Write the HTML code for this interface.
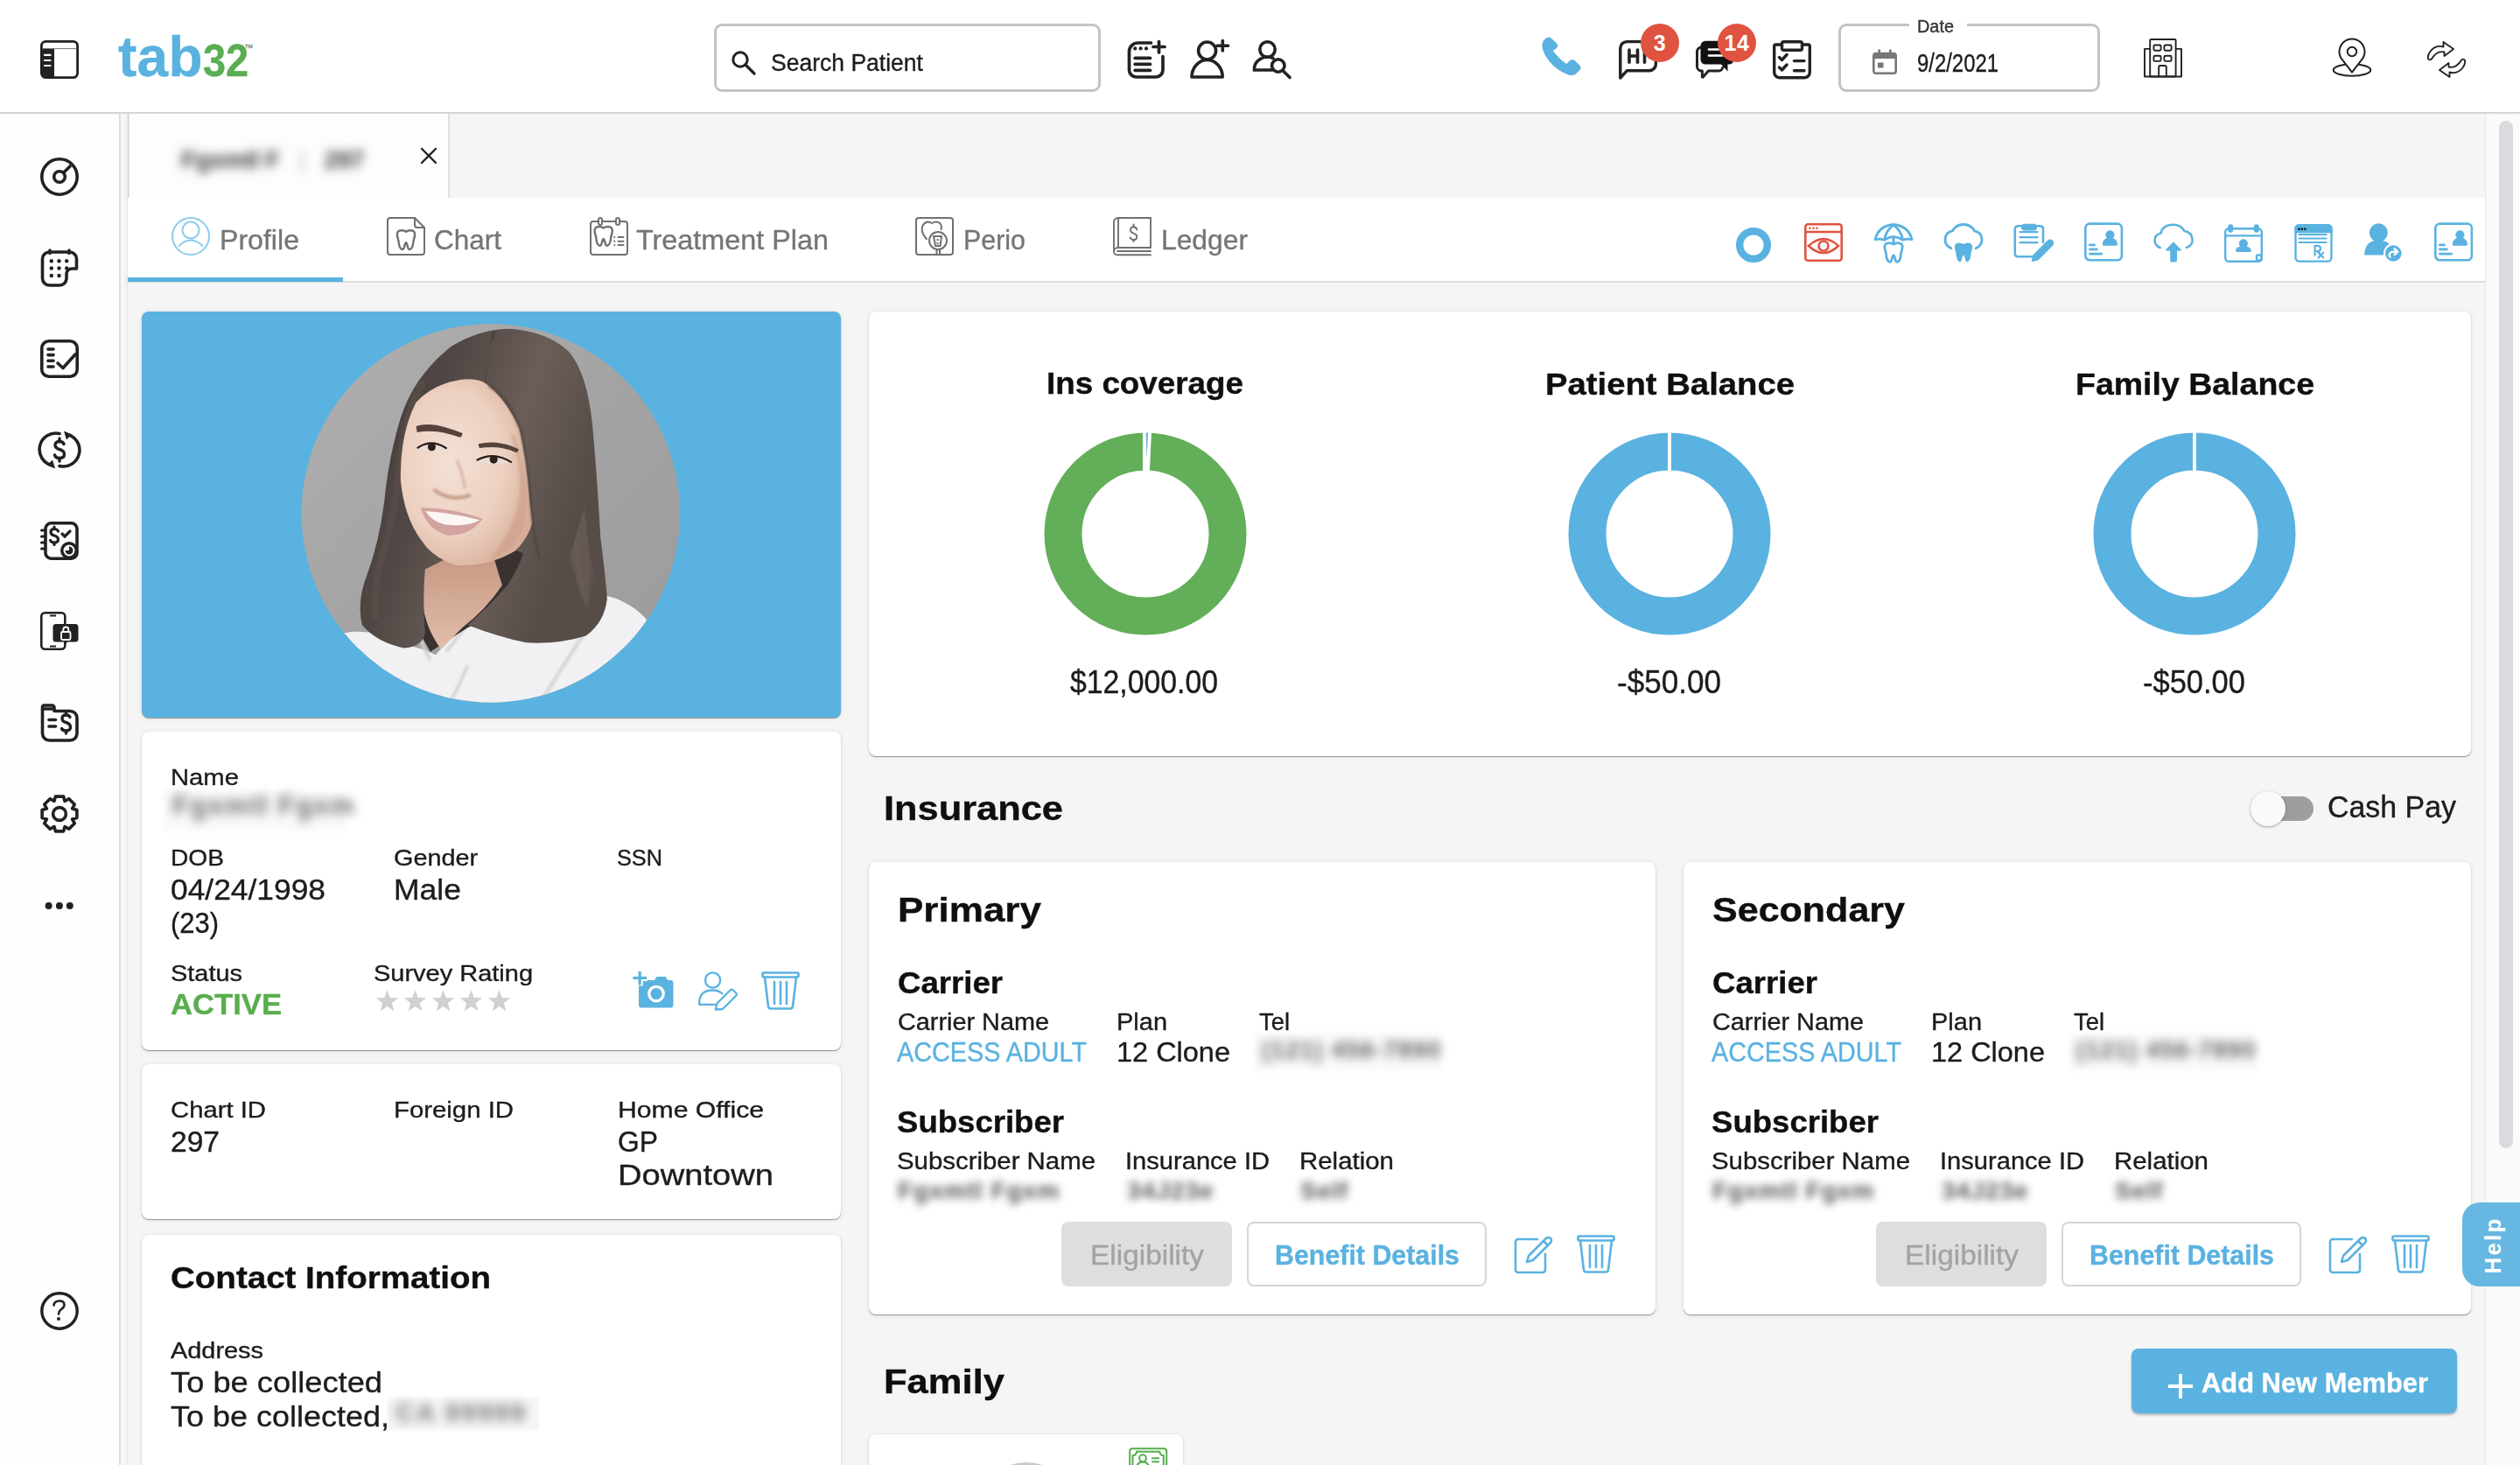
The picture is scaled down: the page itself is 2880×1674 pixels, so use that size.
<!DOCTYPE html>
<html><head><meta charset="utf-8"><title>tab32 Profile</title>
<style>
*{margin:0;padding:0;box-sizing:border-box}
html,body{width:2880px;height:1674px;overflow:hidden;background:#f5f5f5;font-family:"Liberation Sans",sans-serif;position:relative}
.tx{position:absolute;white-space:nowrap;line-height:1;transform-origin:0 50%;-webkit-text-stroke:0.35px currentColor}
.a{position:absolute}
.card{position:absolute;background:#fff;border-radius:8px;box-shadow:0 1px 1px rgba(0,0,0,.36),0 1px 6px rgba(0,0,0,.08),0 0 2px rgba(0,0,0,.06)}
svg{position:absolute;overflow:visible}
.blur{position:absolute;white-space:nowrap;line-height:1;filter:blur(5px)}
</style></head><body>
<div class="a" style="left:0px;top:0px;width:2880px;height:128px;background:#fff"></div>
<div class="a" style="left:0px;top:128px;width:2880px;height:2px;background:#d4d4d4"></div>
<div class="a" style="left:0px;top:130px;width:136px;height:1544px;background:#fefefe"></div>
<div class="a" style="left:136px;top:130px;width:2px;height:1544px;background:#dcdcdc"></div>
<div class="a" style="left:138px;top:130px;width:7px;height:1544px;background:linear-gradient(90deg,#f9f9f9,#f3f3f3)"></div>
<div class="a" style="left:145px;top:130px;width:1px;height:1544px;background:#e6e6e6"></div>
<div class="a" style="left:146px;top:130px;width:2px;height:96px;background:#dedede"></div>
<div class="a" style="left:148px;top:130px;width:2692px;height:96px;background:#f5f5f5"></div>
<div class="a" style="left:148px;top:130px;width:366px;height:96px;background:#fdfdfd;border-right:2px solid #e0e0e0"></div>
<div class="a" style="left:146px;top:226px;width:2694px;height:96px;background:#fff"></div>
<div class="a" style="left:146px;top:321px;width:2694px;height:2px;background:#dcdcdc"></div>
<div class="a" style="left:146px;top:317px;width:246px;height:5px;background:#5ab2e0"></div>
<div class="a" style="left:2840px;top:130px;width:1px;height:1544px;background:#e6e6e6"></div>
<div class="a" style="left:2841px;top:130px;width:39px;height:1544px;background:#fafafa"></div>
<div class="a" style="left:2856px;top:138px;width:16px;height:1174px;background:#dadbde;border-radius:8px"></div>
<div class="a" style="left:816px;top:27px;width:442px;height:78px;border:3px solid #c4c4c4;border-radius:9px;background:#fff"></div>
<div class="a" style="left:2101px;top:27px;width:299px;height:78px;border:3px solid #c4c4c4;border-radius:9px;background:#fff"></div>
<div class="a" style="left:2182px;top:18px;width:66px;height:16px;background:#fff"></div>
<div class="card" style="left:162px;top:356px;width:799px;height:464px;background:#5ab2e0"></div>
<div class="card" style="left:162px;top:836px;width:799px;height:364px;"></div>
<div class="card" style="left:162px;top:1216px;width:799px;height:177px;"></div>
<div class="card" style="left:162px;top:1411px;width:799px;height:400px;"></div>
<div class="card" style="left:993px;top:356px;width:1831px;height:508px;"></div>
<div class="card" style="left:993px;top:985px;width:899px;height:517px;"></div>
<div class="card" style="left:1924px;top:985px;width:900px;height:517px;"></div>
<div class="card" style="left:993px;top:1639px;width:359px;height:200px;"></div>
<div class="a" style="left:2585px;top:910px;width:59px;height:28px;background:#9e9e9e;border-radius:14px"></div>
<div class="a" style="left:2572px;top:904px;width:40px;height:40px;background:#fafafa;border-radius:20px;box-shadow:0 1px 3px rgba(0,0,0,.35)"></div>
<div class="a" style="left:1213px;top:1396px;width:195px;height:74px;background:#dedede;border-radius:8px"></div>
<div class="a" style="left:1425px;top:1396px;width:274px;height:74px;background:#fff;border:2px solid #d6d6d6;border-radius:8px"></div>
<div class="a" style="left:2144px;top:1396px;width:195px;height:74px;background:#dedede;border-radius:8px"></div>
<div class="a" style="left:2356px;top:1396px;width:274px;height:74px;background:#fff;border:2px solid #d6d6d6;border-radius:8px"></div>
<div class="a" style="left:2436px;top:1541px;width:372px;height:74px;background:#5ab2e0;border-radius:8px;box-shadow:0 2px 3px rgba(0,0,0,.25)"></div>
<div class="a" style="left:2814px;top:1374px;width:80px;height:96px;background:#5ab2e0;opacity:.93;border-radius:20px 0 0 20px"></div>
<svg style="left:46px;top:46px" width="44" height="44" viewBox="0 0 44 44"><rect x="1.4" y="1.4" width="41.2" height="41.2" rx="5" fill="#fff" stroke="#222" stroke-width="2.8"/>
<path d="M1.4 9.6H16V42.6H6.4A5 5 0 0 1 1.4 37.6Z" fill="#222"/>
<line x1="2.5" y1="9.6" x2="41.5" y2="9.6" stroke="#777" stroke-width="1"/>
<g stroke="#fff" stroke-width="2.2" stroke-linecap="round"><line x1="5" y1="16.9" x2="11.5" y2="16.9"/><line x1="5" y1="23" x2="11.5" y2="23"/><line x1="5" y1="29" x2="11.5" y2="29"/></g></svg>
<div class="tx" style="left:135px;top:32.6px;font-size:64px;font-weight:700;color:#5ab2e0;letter-spacing:0.3px;transform:scaleX(1.0)">tab</div>
<div class="tx" style="left:232px;top:43.6px;font-size:51px;font-weight:700;color:#5aad52;letter-spacing:0px;transform:scaleX(0.92)">32</div>
<div class="tx" style="left:280px;top:50px;font-size:6px;color:#888">TM</div>
<svg style="left:834px;top:56px" width="32" height="32" viewBox="0 0 32 32"><circle cx="12" cy="12" r="8.2" fill="none" stroke="#222" stroke-width="3"/><line x1="18" y1="18" x2="28" y2="28" stroke="#222" stroke-width="3.2" stroke-linecap="round"/></svg>
<svg style="left:1288px;top:46px" width="44" height="44" viewBox="0 0 44 44"><g fill="none" stroke="#222" stroke-width="3.7" stroke-linecap="round">
<path d="M27.5 3H12.5A10 10 0 0 0 2.5 13V34A8 8 0 0 0 10.5 42H33A8 8 0 0 0 41 34V18.5"/>
<line x1="9.2" y1="20.3" x2="26.5" y2="20.3"/><line x1="9.2" y1="27.3" x2="26.5" y2="27.3"/><line x1="9.2" y1="34.3" x2="26.5" y2="34.3"/>
<line x1="30" y1="7.5" x2="43" y2="7.5"/><line x1="36.5" y1="1.5" x2="36.5" y2="14"/></g>
<g fill="#222"><circle cx="9.2" cy="9.4" r="2.1"/><circle cx="15.6" cy="9.4" r="2.1"/><circle cx="22" cy="9.4" r="2.1"/></g></svg>
<svg style="left:1360px;top:46px" width="44" height="44" viewBox="0 0 44 44"><g fill="none" stroke="#222" stroke-width="3.6" stroke-linecap="round">
<circle cx="19.6" cy="12" r="10"/>
<path d="M2 42A17.6 19.5 0 0 1 37.2 42Z" stroke-linejoin="round"/>
<line x1="31" y1="6.3" x2="43.5" y2="6.3"/><line x1="37.3" y1="0.5" x2="37.3" y2="12"/></g></svg>
<svg style="left:1432px;top:46px" width="44" height="44" viewBox="0 0 44 44"><g fill="none" stroke="#222" stroke-width="3.6" stroke-linecap="round">
<circle cx="16.5" cy="10.5" r="8.7"/>
<path d="M22 34H1.5A15 14 0 0 1 23 20.5"/>
<circle cx="28.8" cy="29" r="7.2"/>
<line x1="35.5" y1="36" x2="42" y2="42.5"/></g></svg>
<svg style="left:1762px;top:42px" width="44" height="44" viewBox="0 0 44 44"><path d="M0.5 11Q0 5 5 1.5Q8 -0.5 11 1.8L16.8 7.2Q19.6 10.2 16.8 13.2L12.9 15.8Q19 25 28.3 31L31.8 27.6Q35 24.8 38.2 27.6L43.2 32.4Q46 35.5 43 38.6L39 42.6Q35.5 45 30.5 43.6Q17 38.5 9 28.5Q1.5 19.5 0.5 11Z" fill="#5ab2e0"/></svg>
<svg style="left:1850px;top:46px" width="44" height="44" viewBox="0 0 44 44"><path d="M1.8 43V9A7.5 7.5 0 0 1 9.3 1.6H35A7.5 7.5 0 0 1 42.4 9V27.2A7.5 7.5 0 0 1 35 34.7H9.5Z" fill="none" stroke="#222" stroke-width="3.4" stroke-linejoin="round"/>
<g stroke="#222" stroke-width="3.6" stroke-linecap="round"><line x1="12" y1="11" x2="12" y2="25.2"/><line x1="21.5" y1="11" x2="21.5" y2="25.2"/><line x1="12" y1="18" x2="21.5" y2="18"/><line x1="29.5" y1="11" x2="29.5" y2="25.2"/></g></svg>
<svg style="left:1938px;top:46px" width="44" height="44" viewBox="0 0 44 44"><path d="M7.4 43.2V35H6.5A5 5 0 0 1 1.5 30V13A5 5 0 0 1 6.5 8H9" fill="none" stroke="#222" stroke-width="3" stroke-linejoin="round"/>
<path d="M7.4 43L14.5 35H26A5 5 0 0 0 31 30" fill="none" stroke="#222" stroke-width="3" stroke-linejoin="round"/>
<path d="M11 0.8H38A5.5 5.5 0 0 1 43.5 6.3V22A5.5 5.5 0 0 1 38 27.5H36.5V35.5L29 27.5H11A5.5 5.5 0 0 1 5.5 22V6.3A5.5 5.5 0 0 1 11 0.8Z" fill="#111"/>
<g stroke="#fff" stroke-width="2.6" stroke-linecap="round"><line x1="15" y1="10.5" x2="34" y2="10.5"/><line x1="15" y1="17.5" x2="30" y2="17.5"/></g></svg>
<div class="a" style="left:1875px;top:27px;width:44px;height:44px;border-radius:22px;background:#e05340"></div>
<div class="a" style="left:1875px;top:27px;width:44px;height:44px;line-height:44px;text-align:center;font-size:25px;font-weight:700;color:#fff;letter-spacing:0.5px">3</div>
<div class="a" style="left:1963px;top:27px;width:44px;height:44px;border-radius:22px;background:#e05340"></div>
<div class="a" style="left:1963px;top:27px;width:44px;height:44px;line-height:44px;text-align:center;font-size:25px;font-weight:700;color:#fff;letter-spacing:0.5px">14</div>
<svg style="left:2026px;top:46px" width="44" height="44" viewBox="0 0 44 44"><g fill="none" stroke="#222" stroke-width="3.4" stroke-linecap="round" stroke-linejoin="round">
<path d="M10 5H3.5A1.8 1.8 0 0 0 1.7 6.8V36.5A6.3 6.3 0 0 0 8 42.8H36A6.3 6.3 0 0 0 42.3 36.5V6.8A1.8 1.8 0 0 0 40.5 5H34"/>
<rect x="10.5" y="1.7" width="23" height="9.5" rx="2"/>
<path d="M7.5 19.5L10.5 22.5L16 16.5"/><path d="M7.5 31L10.5 34L16 28"/>
<line x1="24.5" y1="23.6" x2="36" y2="23.6"/><line x1="24.5" y1="34.8" x2="36" y2="34.8"/></g></svg>
<svg style="left:2140px;top:56px" width="28" height="29" viewBox="0 0 28 29"><rect x="1.3" y="5" width="25.4" height="22.7" rx="2.5" fill="none" stroke="#777" stroke-width="2.6"/>
<rect x="1.3" y="5" width="25.4" height="6" fill="#777"/>
<rect x="6.5" y="0.5" width="2.6" height="6" fill="#777"/><rect x="19" y="0.5" width="2.6" height="6" fill="#777"/>
<rect x="6" y="15.5" width="6.5" height="6" fill="#777"/></svg>
<svg style="left:2450px;top:44px" width="44" height="44" viewBox="0 0 44 44"><g fill="none" stroke="#222" stroke-width="1.9" stroke-linejoin="round">
<rect x="7.2" y="1" width="29.4" height="42.5" rx="1"/>
<path d="M7.2 11.9H1V43.5H43V11.9H36.6"/>
<rect x="11.4" y="7.5" width="8.2" height="6.2" rx="1.5"/><rect x="23.4" y="7.5" width="8.2" height="6.2" rx="1.5"/>
<rect x="11.4" y="19.7" width="8.2" height="6.2" rx="1.5"/><rect x="23.4" y="19.7" width="8.2" height="6.2" rx="1.5"/>
<path d="M17.2 43.5V32.5A1.5 1.5 0 0 1 18.7 31H24.3A1.5 1.5 0 0 1 25.8 32.5V43.5"/></g></svg>
<svg style="left:2666px;top:44px" width="44" height="44" viewBox="0 0 44 44"><g fill="none" stroke="#222" stroke-width="2" stroke-linejoin="round">
<ellipse cx="22" cy="36" rx="21.3" ry="6.8"/>
<path d="M22 38.7L11 24.4A14.5 14.5 0 1 1 33 24.4Z" fill="#fff"/>
<circle cx="22" cy="15" r="5.2"/></g></svg>
<svg style="left:2774px;top:46px" width="44" height="44" viewBox="0 0 44 44"><g fill="none" stroke="#222" stroke-width="1.9" stroke-linejoin="round">
<path d="M1 21Q0 17 4 12Q10 5 18.5 7.5V2L30 10L19.5 18V13.5Q11 11.5 4.8 21.5Q2.5 23.5 1 21Z"/>
<path d="M43 23Q44 27 40 32Q34 39 25.5 36.5V42L14 34L24.5 26V30.5Q33 32.5 39.2 22.5Q41.5 20.5 43 23Z"/></g></svg>
<svg style="left:46px;top:180px" width="44" height="44" viewBox="0 0 44 44"><g fill="none" stroke="#222" stroke-width="3.6" stroke-linecap="round" stroke-linejoin="round"><circle cx="22" cy="22" r="20.2"/><circle cx="22" cy="22" r="6.3"/><line x1="26.5" y1="17.5" x2="34" y2="10"/></g></svg>
<svg style="left:46px;top:285px" width="44" height="44" viewBox="0 0 44 44"><g fill="none" stroke="#222" stroke-width="3.6" stroke-linecap="round" stroke-linejoin="round"><path d="M41.5 22V11A8 8 0 0 0 33.5 3H10.5A8 8 0 0 0 2.5 11V33A8 8 0 0 0 10.5 41H22A8 8 0 0 0 30 33V28A6 6 0 0 1 36 22Z"/><line x1="11" y1="1" x2="11" y2="4.5"/><line x1="33" y1="1" x2="33" y2="4.5"/></g>
<g fill="#222"><circle cx="12.8" cy="13.3" r="2.2"/><circle cx="21.5" cy="13.3" r="2.2"/><circle cx="30.2" cy="13.3" r="2.2"/><circle cx="12.8" cy="21.5" r="2.2"/><circle cx="21.5" cy="21.5" r="2.2"/><circle cx="30.2" cy="21.5" r="2.2"/><circle cx="12.8" cy="30" r="2.2"/><circle cx="21.5" cy="30" r="2.2"/></g></svg>
<svg style="left:46px;top:388px" width="44" height="44" viewBox="0 0 44 44"><g fill="none" stroke="#222" stroke-width="3.6" stroke-linecap="round" stroke-linejoin="round"><rect x="1.8" y="1.8" width="40.4" height="40.4" rx="8"/><line x1="9" y1="11" x2="15" y2="11"/><line x1="9" y1="17.6" x2="15" y2="17.6"/><line x1="9" y1="24.2" x2="15" y2="24.2"/><line x1="9" y1="31" x2="15" y2="31"/><path d="M20 27L26 32.5L40 17"/></g></svg>
<svg style="left:46px;top:492px" width="44" height="44" viewBox="0 0 44 44"><g fill="none" stroke="#222" stroke-width="3.6" stroke-linecap="round" stroke-linejoin="round"><path d="M30.5 4.2A18.5 18.5 0 0 1 22 40.5"/><path d="M13.5 39.8A18.5 18.5 0 0 1 22 3.5"/></g>
<path d="M27 0.5L36 4.5L30 10.5Z" fill="#222"/><path d="M17 43.5L8 39.5L14 33.5Z" fill="#222"/>
<g fill="none" stroke="#222" stroke-width="3.4" stroke-linecap="round"><path d="M27 15.5Q26 12.5 22 12.5Q17 12.5 17 16.5Q17 20 22 21.5Q27.5 23 27.5 27Q27.5 31.5 22 31.5Q17.5 31.5 16.5 28"/><line x1="22" y1="9" x2="22" y2="12"/><line x1="22" y1="32" x2="22" y2="35"/></g></svg>
<svg style="left:46px;top:596px" width="44" height="44" viewBox="0 0 44 44"><g fill="none" stroke="#222" stroke-width="3.6" stroke-linecap="round" stroke-linejoin="round"><rect x="6" y="1.8" width="36" height="40.4" rx="6.5"/></g>
<g stroke="#222" stroke-width="3" stroke-linecap="round"><line x1="1.5" y1="10" x2="5" y2="10"/><line x1="1.5" y1="17" x2="5" y2="17"/><line x1="1.5" y1="24" x2="5" y2="24"/><line x1="1.5" y1="31" x2="5" y2="31"/></g>
<g fill="none" stroke="#222" stroke-width="3.2" stroke-linecap="round"><path d="M20.5 11Q19.5 8.5 16 8.5Q12 8.5 12 12Q12 15 16 16Q20.5 17.2 20.5 20.5Q20.5 24 16 24Q12.5 24 11.5 21.5"/><line x1="16" y1="6" x2="16" y2="8.5"/><line x1="16" y1="24" x2="16" y2="26.5"/><path d="M25 14L28 17L34 11"/></g>
<circle cx="33" cy="33" r="10" fill="#222"/><circle cx="33" cy="33" r="6.5" fill="#fff"/><path d="M33 33V28.5A4.5 4.5 0 1 1 28.5 33Z" fill="#222"/></svg>
<svg style="left:46px;top:699px" width="44" height="44" viewBox="0 0 44 44"><rect x="1.3" y="1.3" width="27" height="41.4" rx="4" fill="none" stroke="#222" stroke-width="2.6"/>
<line x1="11" y1="4.5" x2="18" y2="4.5" stroke="#222" stroke-width="2"/><line x1="11" y1="39.5" x2="18" y2="39.5" stroke="#222" stroke-width="2"/>
<path d="M18 14H40A3.5 3.5 0 0 1 43.5 17.5V31A3.5 3.5 0 0 1 40 34.5H31L27 39V34.5H18A3.5 3.5 0 0 1 14.5 31V17.5A3.5 3.5 0 0 1 18 14Z" fill="#222"/>
<rect x="24" y="23" width="10.5" height="9" rx="1.5" fill="none" stroke="#fff" stroke-width="1.8"/><path d="M26.3 23V20.5A3 3 0 0 1 32.3 20.5V23" fill="none" stroke="#fff" stroke-width="1.8"/></svg>
<svg style="left:46px;top:804px" width="44" height="44" viewBox="0 0 44 44"><g fill="none" stroke="#222" stroke-width="3.6" stroke-linecap="round" stroke-linejoin="round"><path d="M2.5 6V34A8 8 0 0 0 10.5 42H34A8 8 0 0 0 42 34V16.5A8 8 0 0 0 34 8.5H16V4.5A2.5 2.5 0 0 0 13.5 2H4.5A2 2 0 0 0 2.5 4V6H15"/><line x1="10" y1="18.5" x2="17.5" y2="18.5"/><line x1="10" y1="26" x2="17.5" y2="26"/></g>
<g fill="none" stroke="#222" stroke-width="3.4" stroke-linecap="round"><path d="M34 15.5Q33 13 29.5 13Q25 13 25 17Q25 20.5 29.5 21.5Q34.5 23 34.5 27Q34.5 31 29.5 31Q25.5 31 24.5 28.5"/><line x1="29.5" y1="10" x2="29.5" y2="13"/><line x1="29.5" y1="31" x2="29.5" y2="34"/></g></svg>
<svg style="left:46px;top:908px" width="44" height="44" viewBox="0 0 44 44"><path d="M15.95 7.40L17.41 2.12L26.59 2.12L28.05 7.40L28.05 7.40L32.81 4.70L39.30 11.19L36.60 15.95L36.60 15.95L41.88 17.41L41.88 26.59L36.60 28.05L36.60 28.05L39.30 32.81L32.81 39.30L28.05 36.60L28.05 36.60L26.59 41.88L17.41 41.88L15.95 36.60L15.95 36.60L11.19 39.30L4.70 32.81L7.40 28.05L7.40 28.05L2.12 26.59L2.12 17.41L7.40 15.95L7.40 15.95L4.70 11.19L11.19 4.70L15.95 7.40Z" fill="none" stroke="#222" stroke-width="3.6" stroke-linejoin="round"/><circle cx="22" cy="22" r="7.4" fill="none" stroke="#222" stroke-width="3.6"/></svg>
<svg style="left:50px;top:1031px" width="36" height="8" viewBox="0 0 36 8"><g fill="#222"><circle cx="5.6" cy="4" r="4"/><circle cx="17.9" cy="4" r="4"/><circle cx="29.8" cy="4" r="4"/></g></svg>
<svg style="left:46px;top:1476px" width="44" height="44" viewBox="0 0 44 44"><circle cx="22" cy="22" r="20.2" fill="none" stroke="#222" stroke-width="3.4"/><path d="M15.5 15.5Q16 10.5 22 10.5Q27.5 10.5 27.5 15Q27.5 18 23.5 20.5Q21 22.5 21 25.5" fill="none" stroke="#222" stroke-width="2.6" stroke-linecap="round"/><circle cx="21" cy="31" r="2" fill="#222"/></svg>
<div class="blur" style="left:207px;top:169px;font-size:28px;font-weight:700;color:#3a3a3a;filter:blur(6px);letter-spacing:-0.5px">Fgxmtl F&nbsp;&nbsp;&nbsp;<span style="color:#ccc">|</span>&nbsp;&nbsp;&nbsp;297</div>
<svg style="left:480px;top:168px" width="20" height="20" viewBox="0 0 20 20"><g stroke="#222" stroke-width="2.4" stroke-linecap="round"><line x1="2" y1="2" x2="18" y2="18"/><line x1="18" y1="2" x2="2" y2="18"/></g></svg>
<svg style="left:196px;top:248px" width="44" height="44" viewBox="0 0 44 44"><g fill="none" stroke="#8ccbec" stroke-width="2"><circle cx="22" cy="22" r="21"/><circle cx="22" cy="15" r="9.5"/><path d="M8 34Q14 26.5 22 26.5Q30 26.5 36 34"/></g></svg>
<svg style="left:442px;top:248px" width="44" height="44" viewBox="0 0 44 44"><g fill="none" stroke="#707070" stroke-width="2" stroke-linejoin="round" stroke-linecap="round"><path d="M3 1H32L43 12V40A3 3 0 0 1 40 43H4A3 3 0 0 1 1 40V4A3 3 0 0 1 4 1Z"/><path d="M32 1V9A3 3 0 0 0 35 12H43"/><path transform="translate(22 26.3)" d="M-10 -5Q-11 -11 -5 -11Q-2 -11 0 -9.5Q2 -11 5 -11Q11 -11 10 -5Q9.5 -2 8.5 1Q8 9 5 10.5Q3 11.5 2 8Q1 3 0 3Q-1 3 -2 8Q-3 11.5 -5 10.5Q-8 9 -8.5 1Q-9.5 -2 -10 -5Z" stroke-width="2.4"/></g></svg>
<svg style="left:674px;top:248px" width="44" height="44" viewBox="0 0 44 44"><g fill="none" stroke="#707070" stroke-width="2" stroke-linejoin="round" stroke-linecap="round"><rect x="1" y="5" width="42" height="38" rx="3"/><rect x="10" y="1" width="4" height="8" rx="2" fill="#fff"/><rect x="30" y="1" width="4" height="8" rx="2" fill="#fff"/><path transform="translate(15.7 22)" d="M-10 -5Q-11 -11 -5 -11Q-2 -11 0 -9.5Q2 -11 5 -11Q11 -11 10 -5Q9.5 -2 8.5 1Q8 9 5 10.5Q3 11.5 2 8Q1 3 0 3Q-1 3 -2 8Q-3 11.5 -5 10.5Q-8 9 -8.5 1Q-9.5 -2 -10 -5Z" stroke-width="2.4"/><line x1="32.5" y1="23.1" x2="38.5" y2="23.1"/><line x1="32.5" y1="27.7" x2="38.5" y2="27.7"/><line x1="32.5" y1="32" x2="38.5" y2="32"/></g><g fill="#707070"><circle cx="28.3" cy="23.1" r="1.1"/><circle cx="28.3" cy="27.7" r="1.1"/><circle cx="28.3" cy="32" r="1.1"/></g></svg>
<svg style="left:1046px;top:248px" width="44" height="44" viewBox="0 0 44 44"><g fill="none" stroke="#707070" stroke-width="2" stroke-linejoin="round" stroke-linecap="round"><rect x="1" y="1" width="42" height="42" rx="3"/><path d="M13 25Q5 16 9 9Q13 3.5 19 7Q24 4 28 7Q31 9.5 29.5 14"/><circle cx="26" cy="27" r="10" fill="#fff"/><path d="M21 22H30L28.5 33H23Z"/><line x1="24.5" y1="37" x2="24.5" y2="43"/><line x1="28" y1="37" x2="28" y2="43"/></g><g fill="#707070"><circle cx="25.5" cy="26" r="1.2"/><circle cx="25.5" cy="30" r="1.2"/></g></svg>
<svg style="left:1272px;top:248px" width="44" height="44" viewBox="0 0 44 44"><g fill="none" stroke="#707070" stroke-width="1.9" stroke-linejoin="round" stroke-linecap="round"><path d="M5.5 1H43V35H5.5A4.5 4.5 0 0 0 1 39.5V5.5A4.5 4.5 0 0 1 5.5 1Z"/><line x1="6" y1="35" x2="6" y2="1.2"/><path d="M1 39.5A4 4 0 0 0 5 43.3H43"/><line x1="5" y1="39" x2="43" y2="39"/><path d="M27.3 14.5Q26.5 11.2 23.5 11.2Q20 11.2 20 14.8Q20 17.8 23.5 18.6Q27.3 19.6 27.3 22.8Q27.3 26 23.5 26Q20.6 26 19.8 23.5"/><line x1="23.5" y1="8.5" x2="23.5" y2="11.2"/><line x1="23.5" y1="26" x2="23.5" y2="28"/></g></svg>
<svg style="left:1982px;top:258px" width="44" height="44" viewBox="0 0 44 44"><circle cx="22" cy="22" r="15.8" fill="none" stroke="#5ab2e0" stroke-width="8.4"/></svg>
<svg style="left:2062px;top:255px" width="44" height="44" viewBox="0 0 44 44"><g fill="none" stroke="#e05340" stroke-width="2.6"><rect x="1.3" y="1.3" width="41.4" height="41.4" rx="3"/><line x1="1.3" y1="10" x2="42.7" y2="10"/><path d="M5 26Q22 10 39 26Q22 42 5 26Z"/><circle cx="22" cy="26" r="5.5"/></g><g fill="#e05340"><circle cx="6.5" cy="5.7" r="1.3"/><circle cx="10.5" cy="5.7" r="1.3"/><circle cx="14.5" cy="5.7" r="1.3"/></g></svg>
<svg style="left:2142px;top:255px" width="44" height="44" viewBox="0 0 44 44"><g fill="none" stroke="#5ab2e0" stroke-width="2.8" stroke-linejoin="round" stroke-linecap="round"><path d="M1 18.6Q5 3 22 1.5Q39 3 43 18.6Q37 17.5 32.4 19.2Q27 15.6 22 15.6Q17 15.6 11.8 19.2Q7 17.5 1 18.6Z"/><path d="M22 2Q13 9 11.8 18.5M22 2Q31 9 32.4 18.5"/><line x1="22" y1="16" x2="22" y2="23"/><path transform="translate(22 33.6)" d="M-10 -5Q-11 -11 -5 -11Q-2 -11 0 -9.5Q2 -11 5 -11Q11 -11 10 -5Q9.5 -2 8.5 1Q8 9 5 10.5Q3 11.5 2 8Q1 3 0 3Q-1 3 -2 8Q-3 11.5 -5 10.5Q-8 9 -8.5 1Q-9.5 -2 -10 -5Z"/></g></svg>
<svg style="left:2222px;top:255px" width="44" height="44" viewBox="0 0 44 44"><g fill="none" stroke="#5ab2e0" stroke-width="2.8" stroke-linejoin="round" stroke-linecap="round"><path d="M8 28.7Q0.5 25.5 1 18Q1.8 10 9.5 8.8Q13.5 1.5 22 1.5Q30.5 1.5 34.5 8.8Q42.2 10 43 18Q43.5 25.5 36 28.7"/></g><path transform="translate(22 33.6)" d="M-10 -5Q-11 -11 -5 -11Q-2 -11 0 -9.5Q2 -11 5 -11Q11 -11 10 -5Q9.5 -2 8.5 1Q8 9 5 10.5Q3 11.5 2 8Q1 3 0 3Q-1 3 -2 8Q-3 11.5 -5 10.5Q-8 9 -8.5 1Q-9.5 -2 -10 -5Z" fill="#5ab2e0"/></svg>
<svg style="left:2302px;top:255px" width="44" height="44" viewBox="0 0 44 44"><g fill="none" stroke="#5ab2e0" stroke-width="2.6" stroke-linejoin="round" stroke-linecap="round"><path d="M9 3.2H4A3.5 3.5 0 0 0 0.8 6.7V35A3.5 3.5 0 0 0 4.3 38.3H21"/><path d="M25 3.2H29.8A3.5 3.5 0 0 1 33 6.7V22"/></g><g stroke="#5ab2e0" stroke-width="2.3" stroke-linecap="round"><line x1="6.5" y1="10.2" x2="26.5" y2="10.2"/><line x1="6.5" y1="16.2" x2="26.5" y2="16.2"/><line x1="6.5" y1="22.2" x2="26.5" y2="22.2"/></g><rect x="8" y="0.8" width="18" height="7.8" rx="3.5" fill="#5ab2e0"/><path d="M19.6 44.2L21.4 36.2L38 19.8A4.24 4.24 0 0 1 44 25.8L27.6 42.2Z" fill="#5ab2e0"/></svg>
<svg style="left:2382px;top:255px" width="44" height="44" viewBox="0 0 44 44"><g fill="none" stroke="#5ab2e0" stroke-width="2.6" stroke-linejoin="round" stroke-linecap="round"><rect x="1.3" y="0.6" width="41.6" height="41.6" rx="5"/></g><g stroke="#5ab2e0" stroke-width="2.8" stroke-linecap="round"><line x1="6.4" y1="24.9" x2="11.6" y2="24.9"/><line x1="6.4" y1="29.9" x2="14.4" y2="29.9"/><line x1="6.4" y1="35.1" x2="19.8" y2="35.1"/></g><circle cx="29.4" cy="13.3" r="5.1" fill="#5ab2e0"/><path d="M20.8 24Q21.5 16.5 29.4 16.5Q37.3 16.5 38 24Q38.2 25.8 36.5 25.8H22.3Q20.6 25.8 20.8 24Z" fill="#5ab2e0"/></svg>
<svg style="left:2462px;top:255px" width="44" height="44" viewBox="0 0 44 44"><g fill="none" stroke="#5ab2e0" stroke-width="2.6" stroke-linejoin="round" stroke-linecap="round"><path d="M6.8 28.1Q0.5 25.5 0.6 19.5Q0.8 12.8 7.5 11.5Q9.5 1.7 21.9 1.7Q30.5 1.8 34.5 9Q43.5 10.5 43.6 19.5Q43.5 25.8 36.9 27.7"/></g><path d="M21.9 21.3L31 30.6Q31.5 31.4 30.5 31.4H26V42.8Q26 44.6 24.2 44.6H19.8Q18.2 44.6 18.2 42.8V31.4H13.5Q12.5 31.4 13 30.6Z" fill="#5ab2e0"/></svg>
<svg style="left:2542px;top:255px" width="44" height="44" viewBox="0 0 44 44"><g fill="none" stroke="#5ab2e0" stroke-width="2.4" stroke-linejoin="round"><rect x="1.2" y="6.2" width="41.6" height="37.5" rx="4"/><line x1="1.2" y1="14.4" x2="42.8" y2="14.4"/><rect x="37" y="36.5" width="5.5" height="6" rx="1"/></g><rect x="4.2" y="1.2" width="6" height="9.6" rx="3" fill="#5ab2e0"/><rect x="33.8" y="1.2" width="6" height="9.6" rx="3" fill="#5ab2e0"/><circle cx="21.9" cy="23.3" r="5" fill="#5ab2e0"/><path d="M13 31Q13.5 26.3 21.9 26.3Q30.3 26.3 30.8 31Q31 32.9 29 32.9H14.8Q12.8 32.9 13 31Z" fill="#5ab2e0"/></svg>
<svg style="left:2622px;top:255px" width="44" height="44" viewBox="0 0 44 44"><rect x="1.5" y="2.2" width="41" height="41.4" rx="4" fill="none" stroke="#5ab2e0" stroke-width="2.4"/><path d="M1.5 10.1V6.2A4 4 0 0 1 5.5 2.2H38.5A4 4 0 0 1 42.5 6.2V10.1Z" fill="#5ab2e0" stroke="#5ab2e0" stroke-width="2.4"/><g fill="#111"><circle cx="5.5" cy="6.7" r="1.3"/><circle cx="8.9" cy="6.7" r="1.3"/><circle cx="12.4" cy="6.7" r="1.3"/></g><g stroke="#5ab2e0" stroke-width="2" stroke-linecap="round"><line x1="5.4" y1="13.1" x2="36.6" y2="13.1"/><line x1="5.4" y1="17.5" x2="36.6" y2="17.5"/><line x1="5.4" y1="22" x2="36.6" y2="22"/></g><g fill="none" stroke="#5ab2e0" stroke-width="2.2" stroke-linecap="round" stroke-linejoin="round"><path d="M23.6 36.6V25.8H26.8Q30 25.8 30 28.9Q30 32 26.8 32H23.6M26.8 32L30.5 37"/><path d="M27.6 33.8L33.2 39.4M33.2 33.8L27.6 39.4"/></g></svg>
<svg style="left:2702px;top:255px" width="44" height="44" viewBox="0 0 44 44"><circle cx="16.4" cy="10.8" r="10.5" fill="#5ab2e0"/><path d="M0.2 36.5Q0.5 19.4 16.4 19.4Q24 19.4 28.5 23.5V36.5Z" fill="#5ab2e0"/><circle cx="33.3" cy="34.5" r="10.3" fill="#5ab2e0" stroke="#fff" stroke-width="2"/><path d="M29.5 38.5Q27.8 36.5 29.5 34.2Q30.8 32.6 33 32.6H38M34.6 29.2L38.2 32.6L34.6 36" fill="none" stroke="#fff" stroke-width="2.4" stroke-linecap="round" stroke-linejoin="round"/></svg>
<svg style="left:2782px;top:255px" width="44" height="44" viewBox="0 0 44 44"><g fill="none" stroke="#5ab2e0" stroke-width="2.6" stroke-linejoin="round" stroke-linecap="round"><rect x="1.3" y="0.6" width="41.6" height="41.6" rx="5"/></g><g stroke="#5ab2e0" stroke-width="2.8" stroke-linecap="round"><line x1="6.4" y1="24.9" x2="11.6" y2="24.9"/><line x1="6.4" y1="29.9" x2="14.4" y2="29.9"/><line x1="6.4" y1="35.1" x2="19.8" y2="35.1"/></g><circle cx="29.4" cy="13.3" r="5.1" fill="#5ab2e0"/><path d="M20.8 24Q21.5 16.5 29.4 16.5Q37.3 16.5 38 24Q38.2 25.8 36.5 25.8H22.3Q20.6 25.8 20.8 24Z" fill="#5ab2e0"/></svg>
<svg style="left:723px;top:1110px" width="48" height="44" viewBox="0 0 48 44"><path d="M10 10H25L27.5 6H37.5L40 10H43.5A3 3 0 0 1 46.5 13V38.5A3 3 0 0 1 43.5 41.5H10A3 3 0 0 1 7 38.5V13A3 3 0 0 1 10 10Z" fill="#5ab2e0"/><circle cx="27" cy="25.6" r="8.2" fill="none" stroke="#fff" stroke-width="3.4"/><circle cx="27" cy="25.6" r="6.3" fill="#5ab2e0"/><g stroke="#fff" stroke-width="7" stroke-linecap="square"><line x1="3" y1="7.5" x2="13.5" y2="7.5"/><line x1="8.2" y1="2" x2="8.2" y2="13"/></g><g stroke="#5ab2e0" stroke-width="3.2"><line x1="0.5" y1="7.5" x2="16" y2="7.5"/><line x1="8.2" y1="0" x2="8.2" y2="15.5"/></g></svg>
<svg style="left:797px;top:1110px" width="46" height="46" viewBox="0 0 46 46"><g fill="none" stroke="#5ab2e0" stroke-width="2.3" stroke-linejoin="round" stroke-linecap="round"><circle cx="17.6" cy="10" r="8.6"/><path d="M21 37.8H2.2Q1.5 21.5 17.6 21.5Q24.5 21.5 28.5 25.5"/><path d="M20.8 43.5L22.5 36.5L37.5 21.5A2.5 2.5 0 0 1 41 21.5L44 24.5A2.5 2.5 0 0 1 44 28L29 43Z"/></g></svg>
<svg style="left:870px;top:1110px" width="44" height="44" viewBox="0 0 44 44"><g fill="none" stroke="#5ab2e0" stroke-width="2.6" stroke-linejoin="round" stroke-linecap="round"><rect x="1.5" y="1.5" width="41" height="5" rx="1.5"/><path d="M4 6.5L8 40A3 3 0 0 0 11 42.5H33A3 3 0 0 0 36 40L40 6.5"/><line x1="15" y1="12" x2="15" y2="37"/><line x1="22" y1="12" x2="22" y2="37"/><line x1="29" y1="12" x2="29" y2="37"/></g></svg>
<svg style="left:429px;top:1131px" width="27" height="27" viewBox="0 0 27 27"><polygon points="13.50 0.00 16.79 8.97 26.34 9.33 18.83 15.23 21.44 24.42 13.50 19.10 5.56 24.42 8.17 15.23 0.66 9.33 10.21 8.97" fill="#d0d0d0"/></svg>
<svg style="left:461px;top:1131px" width="27" height="27" viewBox="0 0 27 27"><polygon points="13.50 0.00 16.79 8.97 26.34 9.33 18.83 15.23 21.44 24.42 13.50 19.10 5.56 24.42 8.17 15.23 0.66 9.33 10.21 8.97" fill="#d0d0d0"/></svg>
<svg style="left:493px;top:1131px" width="27" height="27" viewBox="0 0 27 27"><polygon points="13.50 0.00 16.79 8.97 26.34 9.33 18.83 15.23 21.44 24.42 13.50 19.10 5.56 24.42 8.17 15.23 0.66 9.33 10.21 8.97" fill="#d0d0d0"/></svg>
<svg style="left:525px;top:1131px" width="27" height="27" viewBox="0 0 27 27"><polygon points="13.50 0.00 16.79 8.97 26.34 9.33 18.83 15.23 21.44 24.42 13.50 19.10 5.56 24.42 8.17 15.23 0.66 9.33 10.21 8.97" fill="#d0d0d0"/></svg>
<svg style="left:557px;top:1131px" width="27" height="27" viewBox="0 0 27 27"><polygon points="13.50 0.00 16.79 8.97 26.34 9.33 18.83 15.23 21.44 24.42 13.50 19.10 5.56 24.42 8.17 15.23 0.66 9.33 10.21 8.97" fill="#d0d0d0"/></svg>
<div class="a" style="left:186px;top:903px;width:208px;height:46px;background:#fafafa;filter:blur(2px)"></div>
<div class="blur" style="left:197px;top:905px;font-size:31px;font-weight:700;color:#6e6e6e;filter:blur(6px);letter-spacing:1.5px">Fgxmtl Fgxm</div>
<div class="a" style="left:443px;top:1597px;width:173px;height:37px;background:#f6f6f6;filter:blur(1px)"></div>
<div class="blur" style="left:452px;top:1599px;font-size:30px;font-weight:700;color:#7a7a7a;filter:blur(6px);letter-spacing:2px">CA 99999</div>
<svg style="left:1189px;top:489.5px" width="240" height="240" viewBox="0 0 240 240"><circle cx="120" cy="120" r="94" fill="none" stroke="#63ae59" stroke-width="43"/><path d="M117 0H127.2L124.8 50H117Z" fill="#fff"/><path d="M120.6 4.5H123L121.6 34Z" fill="#5ab2e0"/></svg>
<svg style="left:1788px;top:489.5px" width="240" height="240" viewBox="0 0 240 240"><circle cx="120" cy="120" r="94" fill="none" stroke="#5ab2e0" stroke-width="43"/><line x1="120" y1="0" x2="120" y2="48" stroke="#fff" stroke-width="4"/></svg>
<svg style="left:2388px;top:489.5px" width="240" height="240" viewBox="0 0 240 240"><circle cx="120" cy="120" r="94" fill="none" stroke="#5ab2e0" stroke-width="43"/><line x1="120" y1="0" x2="120" y2="48" stroke="#fff" stroke-width="4"/></svg>
<div class="a" style="left:1434px;top:1181px;width:214px;height:42px;background:#fafafa;filter:blur(2px)"></div>
<div class="blur" style="left:1442px;top:1186px;font-size:28px;font-weight:700;color:#666;filter:blur(5.5px);letter-spacing:1px">(121) 456-7890</div>
<div class="blur" style="left:1026px;top:1347px;font-size:28px;font-weight:700;color:#555;filter:blur(5px);letter-spacing:1px">Fgxmtl Fgxm</div>
<div class="blur" style="left:1288px;top:1347px;font-size:28px;font-weight:700;color:#555;filter:blur(5px);letter-spacing:1px">34J23e</div>
<div class="blur" style="left:1486px;top:1347px;font-size:28px;font-weight:700;color:#555;filter:blur(5px);letter-spacing:1px">Self</div>
<svg style="left:1730px;top:1411px" width="44" height="44" viewBox="0 0 44 44"><g fill="none" stroke="#5ab2e0" stroke-width="2.6" stroke-linejoin="round" stroke-linecap="round"><path d="M27 5H5A3 3 0 0 0 2 8V40A3 3 0 0 0 5 43H33A3 3 0 0 0 36 40V22"/><path d="M15 31L17 24L37 4A3 3 0 0 1 42 9L22 29Z"/><line x1="34" y1="7" x2="39" y2="12"/></g></svg>
<svg style="left:1802px;top:1411px" width="44" height="44" viewBox="0 0 44 44"><g fill="none" stroke="#5ab2e0" stroke-width="2.6" stroke-linejoin="round" stroke-linecap="round"><rect x="1.5" y="1.5" width="41" height="5" rx="1.5"/><path d="M4 6.5L8 40A3 3 0 0 0 11 42.5H33A3 3 0 0 0 36 40L40 6.5"/><line x1="15" y1="12" x2="15" y2="37"/><line x1="22" y1="12" x2="22" y2="37"/><line x1="29" y1="12" x2="29" y2="37"/></g></svg>
<div class="a" style="left:2365px;top:1181px;width:214px;height:42px;background:#fafafa;filter:blur(2px)"></div>
<div class="blur" style="left:2373px;top:1186px;font-size:28px;font-weight:700;color:#666;filter:blur(5.5px);letter-spacing:1px">(121) 456-7890</div>
<div class="blur" style="left:1957px;top:1347px;font-size:28px;font-weight:700;color:#555;filter:blur(5px);letter-spacing:1px">Fgxmtl Fgxm</div>
<div class="blur" style="left:2219px;top:1347px;font-size:28px;font-weight:700;color:#555;filter:blur(5px);letter-spacing:1px">34J23e</div>
<div class="blur" style="left:2417px;top:1347px;font-size:28px;font-weight:700;color:#555;filter:blur(5px);letter-spacing:1px">Self</div>
<svg style="left:2661px;top:1411px" width="44" height="44" viewBox="0 0 44 44"><g fill="none" stroke="#5ab2e0" stroke-width="2.6" stroke-linejoin="round" stroke-linecap="round"><path d="M27 5H5A3 3 0 0 0 2 8V40A3 3 0 0 0 5 43H33A3 3 0 0 0 36 40V22"/><path d="M15 31L17 24L37 4A3 3 0 0 1 42 9L22 29Z"/><line x1="34" y1="7" x2="39" y2="12"/></g></svg>
<svg style="left:2733px;top:1411px" width="44" height="44" viewBox="0 0 44 44"><g fill="none" stroke="#5ab2e0" stroke-width="2.6" stroke-linejoin="round" stroke-linecap="round"><rect x="1.5" y="1.5" width="41" height="5" rx="1.5"/><path d="M4 6.5L8 40A3 3 0 0 0 11 42.5H33A3 3 0 0 0 36 40L40 6.5"/><line x1="15" y1="12" x2="15" y2="37"/><line x1="22" y1="12" x2="22" y2="37"/><line x1="29" y1="12" x2="29" y2="37"/></g></svg>
<svg style="left:2478px;top:1570px" width="28" height="28" viewBox="0 0 28 28"><g stroke="#fff" stroke-width="4"><line x1="0" y1="14" x2="28" y2="14"/><line x1="14" y1="0" x2="14" y2="28"/></g></svg>
<div class="a" style="left:2804px;top:1408px;width:90px;height:30px;line-height:30px;font-size:26px;font-weight:700;color:#fff;transform:rotate(-90deg);text-align:center;letter-spacing:2.2px">Help</div>
<svg style="left:1290px;top:1654px" width="44" height="30" viewBox="0 0 44 30"><g fill="none" stroke="#56ad4e" stroke-width="2" stroke-linecap="round"><rect x="1.2" y="1.2" width="42" height="40" rx="3"/><path d="M4.5 40V9.3A4.5 4.5 0 0 0 9 4.8H35.3A4.5 4.5 0 0 0 39.8 9.3V40"/><circle cx="16" cy="12.2" r="3.9"/><path d="M8.2 25Q9.2 16.6 16 16.6Q22.8 16.6 23.8 25"/><line x1="26.8" y1="12.2" x2="34.2" y2="12.2"/><line x1="26.8" y1="16.2" x2="34.2" y2="16.2"/></g></svg>
<div class="a" style="left:1113px;top:1671px;width:120px;height:120px;border-radius:60px;background:#c9c9c9"></div>
<svg style="left:340px;top:365px" width="445" height="445" viewBox="0 0 1465 1465">
<defs><clipPath id="pc"><circle cx="727" cy="729" r="712"/></clipPath><linearGradient id="bgg" x1="0" y1="0" x2="1" y2="1"><stop offset="0" stop-color="#b0b0b0"/><stop offset="0.5" stop-color="#a3a3a3"/><stop offset="1" stop-color="#9b9b9b"/></linearGradient><linearGradient id="hg" gradientUnits="userSpaceOnUse" x1="222" y1="35" x2="1165" y2="335"><stop offset="0" stop-color="#413937"/><stop offset="0.4" stop-color="#514744"/><stop offset="0.7" stop-color="#6a5e58"/><stop offset="1" stop-color="#574d48"/></linearGradient><radialGradient id="fg" cx="0.38" cy="0.45" r="0.7"><stop offset="0" stop-color="#f4e0d5"/><stop offset="0.55" stop-color="#ecd0c0"/><stop offset="1" stop-color="#d4a892"/></radialGradient><linearGradient id="ng" x1="0" y1="0" x2="0" y2="1"><stop offset="0" stop-color="#c4967f"/><stop offset="1" stop-color="#e0bdaa"/></linearGradient><filter id="sb" x="-50%" y="-50%" width="200%" height="200%"><feGaussianBlur stdDeviation="6"/></filter><filter id="sb2" x="-50%" y="-50%" width="200%" height="200%"><feGaussianBlur stdDeviation="3"/></filter></defs>
<g clip-path="url(#pc)">
<rect width="1465" height="1465" fill="url(#bgg)"/>
<path d="M0 1465V1240Q100 1190 200 1175Q320 1170 430 1230L470 1240L520 1262Q570 1200 640 1145Q760 1080 880 1040Q1050 1000 1200 1050Q1290 1090 1320 1140L1465 1320V1465Z" fill="#f1f1f3"/>
<path d="M430 1060Q440 1180 500 1280M720 1040Q660 1120 560 1250M1080 1180Q1000 1300 900 1465M640 1300Q600 1400 560 1465" stroke="#d2d2d6" stroke-width="12" fill="none" filter="url(#sb)"/>
<path d="M470 840H880L850 1000Q770 1100 640 1160L500 1250L460 1180Z" fill="#3a3230"/>
<path d="M470 860Q600 930 740 900L770 1000Q710 1090 620 1160L540 1240Q480 1160 470 1060Q460 960 470 860Z" fill="url(#ng)"/>
<path d="M580 100Q690 35 800 35Q940 45 1020 120Q1090 200 1110 400Q1128 600 1140 820Q1158 960 1165 1050Q1155 1140 1085 1190Q985 1222 860 1216Q760 1196 640 1150Q720 1080 790 1000Q830 940 850 880L800 860Q700 900 600 880L480 940Q470 1050 480 1180Q470 1232 400 1236Q300 1216 243 1150Q222 1060 262 960Q306 840 326 690Q342 520 388 370Q440 210 580 100Z" fill="url(#hg)"/>
<path d="M760 60Q900 70 980 170Q1050 300 1065 520Q1075 720 1100 920Q1110 1010 1090 1090Q1030 960 1010 780Q990 560 970 420Q930 240 820 140Z" fill="#75695f" opacity="0.45" filter="url(#sb)"/>
<g stroke="#7a6d66" stroke-width="6" fill="none" opacity="0.35" filter="url(#sb2)"><path d="M880 150Q1000 300 1020 600Q1040 850 1080 1050"/><path d="M930 200Q1050 380 1070 650Q1085 880 1120 1000"/><path d="M830 180Q940 330 960 600Q975 800 1000 950"/></g>
<path d="M470 240Q410 340 390 520Q372 700 322 880Q284 1000 294 1120" stroke="#5d524d" stroke-width="28" stroke-linecap="round" fill="none" opacity="0.55" filter="url(#sb)"/>
<path d="M738 45Q728 150 709 242" stroke="#2f2826" stroke-width="8" fill="none" opacity="0.45" filter="url(#sb2)"/>
<path d="M446 312Q520 235 633 225Q690 225 709 242Q780 290 840 420Q890 560 895 700Q890 800 820 870Q720 930 600 925Q510 900 465 830Q400 740 388 604Q385 430 446 312Z" fill="url(#fg)"/>
<path d="M709 242Q780 282 826 376Q855 480 867 604Q878 750 905 900L1000 980L1110 600L1060 200Q960 80 800 45Q735 40 720 120Z" fill="url(#hg)"/>
<path d="M720 250Q800 300 840 420Q870 560 880 720Q890 820 910 900" stroke="#4a403b" stroke-width="10" fill="none" opacity="0.6" filter="url(#sb2)"/>
<path d="M820 440Q860 560 865 680Q860 800 800 865Q760 895 720 905Q820 790 835 660Q845 540 800 430Z" fill="#c99985" opacity="0.55" filter="url(#sb)"/>
<path d="M446 402Q505 380 621 428Q618 442 612 444Q520 410 450 425Z" fill="#55433b"/>
<path d="M680 468Q755 450 832 488Q830 500 822 500Q760 472 684 484Z" fill="#55433b"/>
<path d="M452 482Q505 452 560 486Q506 508 452 482Z" fill="#eadcd6"/><circle cx="505" cy="480" r="15" fill="#2f211c"/><path d="M450 484Q505 446 562 486" stroke="#2a1d19" stroke-width="7" fill="none"/>
<path d="M676 528Q738 500 804 536Q742 556 676 528Z" fill="#eadcd6"/><circle cx="738" cy="527" r="15" fill="#2f211c"/><path d="M674 530Q738 494 806 538" stroke="#2a1d19" stroke-width="7" fill="none"/>
<path d="M512 640Q580 690 652 660" stroke="#c79e8a" stroke-width="14" fill="none" filter="url(#sb)"/>
<path d="M600 530Q625 590 630 635" stroke="#d8b3a1" stroke-width="10" fill="none" filter="url(#sb)"/>
<path d="M463 709Q580 708 697 750Q650 815 565 812Q490 795 463 709Z" fill="#d3a3a0"/>
<path d="M481 721Q590 728 686 755Q640 782 556 772Q505 760 481 721Z" fill="#fbf6f3"/>
</g></svg>
<div id="t0" class="tx" style="left:881.0px;top:57.5px;font-size:27.62px;font-weight:400;color:#1c1c1c;transform:scaleX(0.9607);">Search Patient</div>
<div id="t1" class="tx" style="left:2191.0px;top:19.7px;font-size:20.35px;font-weight:400;color:#333;transform:scaleX(0.9771);">Date</div>
<div id="t2" class="tx" style="left:2191.0px;top:58.3px;font-size:29.07px;font-weight:400;color:#1c1c1c;transform:scaleX(0.8220);">9/2/2021</div>
<div id="t3" class="tx" style="left:251.0px;top:257.8px;font-size:31.98px;font-weight:400;color:#757575;transform:scaleX(1.0041);">Profile</div>
<div id="t4" class="tx" style="left:496.0px;top:257.8px;font-size:31.98px;font-weight:400;color:#757575;transform:scaleX(0.9848);">Chart</div>
<div id="t5" class="tx" style="left:727.0px;top:257.8px;font-size:31.98px;font-weight:400;color:#757575;transform:scaleX(1.0121);">Treatment Plan</div>
<div id="t6" class="tx" style="left:1101.0px;top:257.8px;font-size:31.98px;font-weight:400;color:#757575;transform:scaleX(0.9512);">Perio</div>
<div id="t7" class="tx" style="left:1327.0px;top:257.8px;font-size:31.98px;font-weight:400;color:#757575;transform:scaleX(0.9945);">Ledger</div>
<div id="t8" class="tx" style="left:195.0px;top:875.4px;font-size:26.60px;font-weight:400;color:#1c1c1c;transform:scaleX(1.0993);">Name</div>
<div id="t9" class="tx" style="left:195.0px;top:967.4px;font-size:26.60px;font-weight:400;color:#1c1c1c;transform:scaleX(1.0583);">DOB</div>
<div id="t10" class="tx" style="left:195.0px;top:999.6px;font-size:33.43px;font-weight:400;color:#1c1c1c;transform:scaleX(1.0581);">04/24/1998</div>
<div id="t11" class="tx" style="left:195.0px;top:1037.6px;font-size:33.43px;font-weight:400;color:#1c1c1c;transform:scaleX(0.9253);">(23)</div>
<div id="t12" class="tx" style="left:450.0px;top:967.4px;font-size:26.60px;font-weight:400;color:#1c1c1c;transform:scaleX(1.0823);">Gender</div>
<div id="t13" class="tx" style="left:450.0px;top:999.6px;font-size:33.43px;font-weight:400;color:#1c1c1c;transform:scaleX(1.0628);">Male</div>
<div id="t14" class="tx" style="left:705.0px;top:967.4px;font-size:26.60px;font-weight:400;color:#1c1c1c;transform:scaleX(0.9509);">SSN</div>
<div id="t15" class="tx" style="left:195.0px;top:1099.4px;font-size:26.60px;font-weight:400;color:#1c1c1c;transform:scaleX(1.0874);">Status</div>
<div id="t16" class="tx" style="left:195.0px;top:1130.6px;font-size:33.43px;font-weight:700;color:#5aad4e;transform:scaleX(1.0362);">ACTIVE</div>
<div id="t17" class="tx" style="left:427.0px;top:1099.4px;font-size:26.60px;font-weight:400;color:#1c1c1c;transform:scaleX(1.0896);">Survey Rating</div>
<div id="t18" class="tx" style="left:195.0px;top:1255.4px;font-size:26.60px;font-weight:400;color:#1c1c1c;transform:scaleX(1.1008);">Chart ID</div>
<div id="t19" class="tx" style="left:195.0px;top:1287.6px;font-size:33.43px;font-weight:400;color:#1c1c1c;transform:scaleX(1.0042);">297</div>
<div id="t20" class="tx" style="left:450.0px;top:1255.4px;font-size:26.60px;font-weight:400;color:#1c1c1c;transform:scaleX(1.1034);">Foreign ID</div>
<div id="t21" class="tx" style="left:706.0px;top:1255.4px;font-size:26.60px;font-weight:400;color:#1c1c1c;transform:scaleX(1.1336);">Home Office</div>
<div id="t22" class="tx" style="left:706.0px;top:1287.6px;font-size:33.43px;font-weight:400;color:#1c1c1c;transform:scaleX(0.9524);">GP</div>
<div id="t23" class="tx" style="left:706.0px;top:1325.6px;font-size:33.43px;font-weight:400;color:#1c1c1c;transform:scaleX(1.1407);">Downtown</div>
<div id="t24" class="tx" style="left:195.0px;top:1443.3px;font-size:34.88px;font-weight:700;color:#0f0f0f;transform:scaleX(1.1047);">Contact Information</div>
<div id="t25" class="tx" style="left:195.0px;top:1530.4px;font-size:26.60px;font-weight:400;color:#1c1c1c;transform:scaleX(1.0865);">Address</div>
<div id="t26" class="tx" style="left:195.0px;top:1562.6px;font-size:33.43px;font-weight:400;color:#1c1c1c;transform:scaleX(1.0854);">To be collected</div>
<div id="t27" class="tx" style="left:195.0px;top:1601.6px;font-size:33.43px;font-weight:400;color:#1c1c1c;transform:scaleX(1.0764);">To be collected,</div>
<div id="t28" class="tx" style="left:1196.0px;top:421.4px;font-size:34.30px;font-weight:700;color:#0f0f0f;transform:scaleX(1.0729);">Ins coverage</div>
<div id="t29" class="tx" style="left:1223.0px;top:761.7px;font-size:36.34px;font-weight:400;color:#1c1c1c;transform:scaleX(0.9294);">$12,000.00</div>
<div id="t30" class="tx" style="left:1766.0px;top:421.8px;font-size:34.30px;font-weight:700;color:#0f0f0f;transform:scaleX(1.1158);">Patient Balance</div>
<div id="t31" class="tx" style="left:1848.0px;top:762.1px;font-size:36.34px;font-weight:400;color:#1c1c1c;transform:scaleX(0.9658);">-$50.00</div>
<div id="t32" class="tx" style="left:2372.0px;top:421.8px;font-size:34.30px;font-weight:700;color:#0f0f0f;transform:scaleX(1.0932);">Family Balance</div>
<div id="t33" class="tx" style="left:2449.0px;top:762.1px;font-size:36.34px;font-weight:400;color:#1c1c1c;transform:scaleX(0.9495);">-$50.00</div>
<div id="t34" class="tx" style="left:1010.0px;top:903.6px;font-size:39.24px;font-weight:700;color:#0f0f0f;transform:scaleX(1.1060);">Insurance</div>
<div id="t35" class="tx" style="left:2660.0px;top:905.0px;font-size:34.88px;font-weight:400;color:#1c1c1c;transform:scaleX(0.9722);">Cash Pay</div>
<div id="t36" class="tx" style="left:1026.0px;top:1020.1px;font-size:39.24px;font-weight:700;color:#0f0f0f;transform:scaleX(1.1222);">Primary</div>
<div id="t37" class="tx" style="left:1026.0px;top:1105.9px;font-size:34.88px;font-weight:700;color:#0f0f0f;transform:scaleX(1.0490);">Carrier</div>
<div id="t38" class="tx" style="left:1026.0px;top:1154.1px;font-size:27.62px;font-weight:400;color:#1c1c1c;transform:scaleX(1.0441);">Carrier Name</div>
<div id="t39" class="tx" style="left:1025.0px;top:1187.1px;font-size:30.52px;font-weight:400;color:#5ab2e0;transform:scaleX(0.9432);">ACCESS ADULT</div>
<div id="t40" class="tx" style="left:1276.0px;top:1154.1px;font-size:27.62px;font-weight:400;color:#1c1c1c;transform:scaleX(1.0495);">Plan</div>
<div id="t41" class="tx" style="left:1276.0px;top:1187.1px;font-size:30.52px;font-weight:400;color:#1c1c1c;transform:scaleX(1.0642);">12 Clone</div>
<div id="t42" class="tx" style="left:1439.0px;top:1154.1px;font-size:27.62px;font-weight:400;color:#1c1c1c;transform:scaleX(0.9916);">Tel</div>
<div id="t43" class="tx" style="left:1025.0px;top:1265.1px;font-size:34.88px;font-weight:700;color:#0f0f0f;transform:scaleX(1.0483);">Subscriber</div>
<div id="t44" class="tx" style="left:1025.0px;top:1312.5px;font-size:27.62px;font-weight:400;color:#1c1c1c;transform:scaleX(1.0642);">Subscriber Name</div>
<div id="t45" class="tx" style="left:1286.0px;top:1312.5px;font-size:27.62px;font-weight:400;color:#1c1c1c;transform:scaleX(1.0541);">Insurance ID</div>
<div id="t46" class="tx" style="left:1485.0px;top:1312.5px;font-size:27.62px;font-weight:400;color:#1c1c1c;transform:scaleX(1.0660);">Relation</div>
<div id="t47" class="tx" style="left:1246.0px;top:1419.1px;font-size:30.52px;font-weight:400;color:#a3a3a3;transform:scaleX(1.0950);">Eligibility</div>
<div id="t48" class="tx" style="left:1457.0px;top:1419.1px;font-size:30.52px;font-weight:700;color:#5ab2e0;transform:scaleX(0.9954);">Benefit Details</div>
<div id="t49" class="tx" style="left:1957.0px;top:1020.1px;font-size:39.24px;font-weight:700;color:#0f0f0f;transform:scaleX(1.0966);">Secondary</div>
<div id="t50" class="tx" style="left:1957.0px;top:1105.9px;font-size:34.88px;font-weight:700;color:#0f0f0f;transform:scaleX(1.0490);">Carrier</div>
<div id="t51" class="tx" style="left:1957.0px;top:1154.1px;font-size:27.62px;font-weight:400;color:#1c1c1c;transform:scaleX(1.0441);">Carrier Name</div>
<div id="t52" class="tx" style="left:1956.0px;top:1187.1px;font-size:30.52px;font-weight:400;color:#5ab2e0;transform:scaleX(0.9432);">ACCESS ADULT</div>
<div id="t53" class="tx" style="left:2207.0px;top:1154.1px;font-size:27.62px;font-weight:400;color:#1c1c1c;transform:scaleX(1.0495);">Plan</div>
<div id="t54" class="tx" style="left:2207.0px;top:1187.1px;font-size:30.52px;font-weight:400;color:#1c1c1c;transform:scaleX(1.0642);">12 Clone</div>
<div id="t55" class="tx" style="left:2370.0px;top:1154.1px;font-size:27.62px;font-weight:400;color:#1c1c1c;transform:scaleX(0.9916);">Tel</div>
<div id="t56" class="tx" style="left:1956.0px;top:1265.1px;font-size:34.88px;font-weight:700;color:#0f0f0f;transform:scaleX(1.0483);">Subscriber</div>
<div id="t57" class="tx" style="left:1956.0px;top:1312.5px;font-size:27.62px;font-weight:400;color:#1c1c1c;transform:scaleX(1.0642);">Subscriber Name</div>
<div id="t58" class="tx" style="left:2217.0px;top:1312.5px;font-size:27.62px;font-weight:400;color:#1c1c1c;transform:scaleX(1.0541);">Insurance ID</div>
<div id="t59" class="tx" style="left:2416.0px;top:1312.5px;font-size:27.62px;font-weight:400;color:#1c1c1c;transform:scaleX(1.0660);">Relation</div>
<div id="t60" class="tx" style="left:2177.0px;top:1419.1px;font-size:30.52px;font-weight:400;color:#a3a3a3;transform:scaleX(1.0950);">Eligibility</div>
<div id="t61" class="tx" style="left:2388.0px;top:1419.1px;font-size:30.52px;font-weight:700;color:#5ab2e0;transform:scaleX(0.9954);">Benefit Details</div>
<div id="t62" class="tx" style="left:1010.0px;top:1558.6px;font-size:39.24px;font-weight:700;color:#0f0f0f;transform:scaleX(1.1102);">Family</div>
<div id="t63" class="tx" style="left:2516.0px;top:1565.1px;font-size:30.52px;font-weight:700;color:#fff;transform:scaleX(1.0116);">Add New Member</div>
</body></html>
